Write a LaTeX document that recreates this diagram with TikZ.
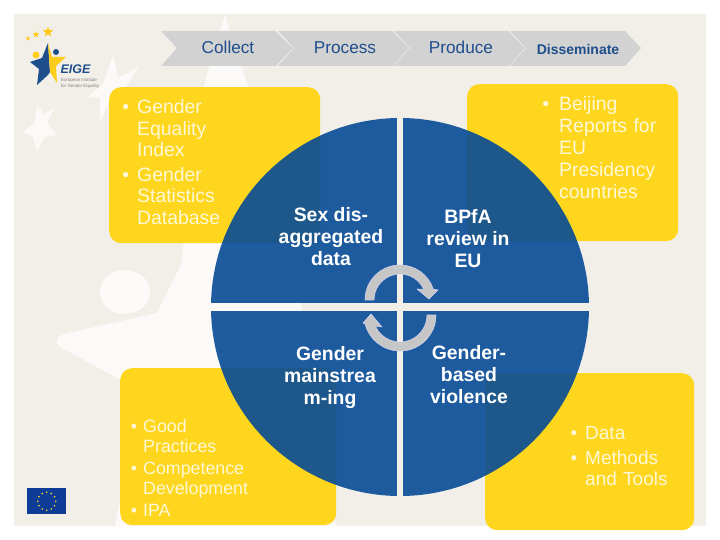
\documentclass[tikz,border=0pt]{standalone}
\usepackage{fontspec}
\setmainfont{Liberation Sans}
\usepackage{tikz}
\usetikzlibrary{shapes.geometric,positioning}
\definecolor{slidebg}{RGB}{242,239,233}
\definecolor{bgstar}{RGB}{251,250,248}
\definecolor{chevgray}{RGB}{210,210,210}
\definecolor{eigeblue}{RGB}{30,78,140}
\definecolor{eigeyellow}{RGB}{254,214,30}
\definecolor{quadblue}{RGB}{6,75,150}
\definecolor{creamtext}{RGB}{255,248,214}
\definecolor{cyclegray}{RGB}{198,198,198}
\definecolor{euflag}{RGB}{15,60,150}
\newcommand{\boxlist}[2]{\setlength{\itemsep}{#1}\setlength{\parskip}{0pt}\setlength{\labelsep}{#2}}
\tikzset{
    yellowbox/.style={anchor=north west, rounded corners=12pt, fill=eigeyellow, inner sep=0pt},
    chevron/.style={fill=chevgray},
    chevlabel/.style={text=eigeblue, text height=12pt, text depth=0pt, font=\fontsize{17.2}{20}\selectfont},
    boxtext/.style={anchor=north west, inner sep=0pt, text=creamtext},
    quadlabel/.style={text=white, align=center, font=\fontsize{19.4}{22}\selectfont\bfseries},
    cyclearrow/.style={fill=cyclegray, draw=cyclegray!70!blue!40!white, line width=0.6pt, line join=round},
    logostar/.style={star, star points=5, star point ratio=2.4, fill=eigeyellow!85!orange, inner sep=0pt}
}

\begin{document}
\begin{tikzpicture}[x=1pt,y=-1pt]
            \useasboundingbox (0,0) rectangle (720,540);
            \fill[white] (0,0) rectangle (720,540);
            \fill[slidebg] (14,14) rectangle (706,526);
            % background figure
            \fill[bgstar] (225,14) .. controls (232,40) and (245,75) .. (262,130) -- (300,300) -- (336,526) -- (115,526)
                -- (135,420) -- (125,382) -- (60,347) .. controls (52,340) and (60,335) .. (68,333)
                -- (157,313) -- (181,265) -- (200,100) .. controls (208,70) and (218,40) .. (225,14) -- cycle;
            \fill[bgstar] (125,292) ellipse (25 and 22);
            \fill[bgstar] (113,55) -- (118,78) -- (139,67) -- (122,92) -- (124,110) -- (110,100) -- (100,122) -- (100,98) -- (88,97) -- (103,84) -- cycle;
            \fill[bgstar] (55,108) -- (47,122) -- (57,135) -- (44,137) -- (37,152) -- (33,137) -- (23,132) -- (34,124) -- (37,105) -- (44,114) -- cycle;
            \fill[chevron] (161,31) -- (275,31) -- (293,48) -- (276,66) -- (161,66) -- (177,48) -- cycle;
            \fill[chevron] (278,31) -- (392,31) -- (409,48) -- (393,66) -- (278,66) -- (294,48) -- cycle;
            \fill[chevron] (394,31) -- (508,31) -- (525,48) -- (509,66) -- (394,66) -- (410,48) -- cycle;
            \fill[chevron] (510,31) -- (625,31) -- (641,48) -- (625,66) -- (510,66) -- (526,48) -- cycle;
            \node[chevlabel] (collect) at (228,48) {Collect};
            \node[chevlabel] (process) at (345,48) {Process};
            \node[chevlabel] (produce) at (461,48) {Produce};
            \node[chevlabel, font=\fontsize{14}{18}\selectfont\bfseries] (disseminate) at (578,49) {Disseminate};
            \node[yellowbox, minimum width=211pt, minimum height=156pt] (indexbox) at (109,87) {};
            \node[yellowbox, minimum width=211pt, minimum height=157pt] (beijingbox) at (467,84) {};
            \node[yellowbox, minimum width=216pt, minimum height=157pt] (practicebox) at (120,368) {};
            \node[yellowbox, minimum width=209pt, minimum height=157pt] (toolsbox) at (485,373) {};
            \begin{scope}
                \clip (400,307) circle (189);
                \fill[quadblue, opacity=0.9] (200,100) rectangle (397,303);
                \fill[quadblue, opacity=0.9] (403,100) rectangle (600,303);
                \fill[quadblue, opacity=0.9] (200,311) rectangle (397,500);
                \fill[quadblue, opacity=0.9] (403,311) rectangle (600,500);
            \end{scope}
            \fill[cyclearrow] (365,300) arc (180:342:35) -- (438,290) -- (429,299) -- (417,289) -- (423.8,289.4) arc (336:180:26) -- cycle;
            \fill[cyclearrow] (436,315) arc (0:165.5:36) -- (363,323) -- (371,314) -- (382,327) -- (375.3,326) arc (156:0:27) -- cycle;
            \node[quadlabel] (sexdata) at (331,237) {Sex dis-\\aggregated\\data};
            \node[quadlabel] (bpfa) at (468,239) {BPfA\\review in\\EU};
            \node[quadlabel] (mainstream) at (330,377.5) {Gender\\mainstrea\\m-ing};
            \node[quadlabel] (violence) at (469,375) {Gender-\\based\\violence};
            \node[boxtext, text width=170pt, font=\fontsize{19.4}{21.5}\selectfont] (indextext) at (122,84) {
                \setlength{\leftmargini}{15pt}
                \begin{itemize}\boxlist{3pt}{8pt}
                    \item Gender\\Equality\\Index
                    \item Gender\\Statistics\\Database
                \end{itemize}
            };
            \node[boxtext, text width=125pt, font=\fontsize{19.4}{21.8}\selectfont] (beijingtext) at (541,81) {
                \setlength{\leftmargini}{18pt}
                \begin{itemize}\boxlist{0pt}{10pt}
                    \item Beijing\\Reports for\\EU\\Presidency\\countries
                \end{itemize}
            };
            \node[boxtext, text width=180pt, font=\fontsize{17.8}{20}\selectfont] (practicetext) at (129,404) {
                \setlength{\leftmargini}{14pt}
                \begin{itemize}\boxlist{2pt}{6pt}
                    \item Good\\Practices
                    \item Competence\\Development
                    \item IPA
                \end{itemize}
            };
            \node[boxtext, text width=120pt, font=\fontsize{19}{21.5}\selectfont] (toolstext) at (570,410) {
                \setlength{\leftmargini}{15pt}
                \begin{itemize}\boxlist{3pt}{8pt}
                    \item Data
                    \item Methods\\and Tools
                \end{itemize}
            };
            % logo
            \node[logostar, minimum size=11pt] (logostara) at (48,32) {};
            \node[logostar, minimum size=7pt] (logostarb) at (36,34.5) {};
            \node[logostar, minimum size=5pt] (logostarc) at (28,38.5) {};
            \fill[eigeblue] (48,43) -- (42,58) -- (30,62) -- (39,69) -- (37,85) -- (48,75) -- (50,72) -- cycle;
            \fill[eigeyellow!90!orange] (48,43) -- (52,57) -- (66,57) -- (56,66) -- (57,83) -- (50,72) -- cycle;
            \fill[eigeyellow!90!orange] (36,55) circle (3.5);
            \fill[eigeblue] (56,52) circle (3);
            \node[text=eigeblue, font=\fontsize{12.5}{14}\selectfont\bfseries\itshape, inner sep=0pt] (eigename) at (75.5,69.5) {EIGE};
            \node[text=gray, font=\fontsize{4.4}{5.4}\selectfont, align=left, inner sep=0pt, anchor=north west] (eigeline) at (61,78.5) {European Institute\\for Gender Equality};
            % flag
            \node[anchor=north west, fill=euflag, minimum width=39pt, minimum height=26pt, inner sep=0pt] (flag) at (27,488) {};
            \foreach \i in {0,30,...,330}
                \fill[eigeyellow] (flag.center) ++(\i:9) circle (0.9);
        \end{tikzpicture}
\end{document}
